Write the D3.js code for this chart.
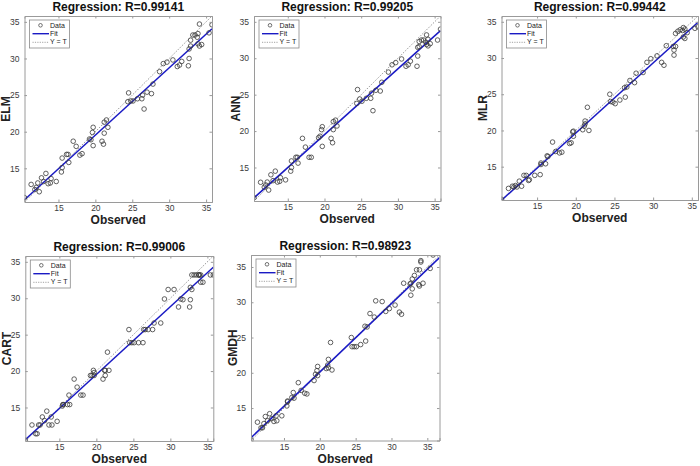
<!DOCTYPE html>
<html><head><meta charset="utf-8">
<script src="https://cdn.jsdelivr.net/npm/d3@7/dist/d3.min.js"></script>
<style>
body{margin:0;background:#fff;}
svg{display:block;font-family:"Liberation Sans",Arial,Helvetica,sans-serif;}
</style>
</head><body>
<svg id="chart" width="700" height="466"></svg>
<script>
// ---------------- data ----------------
const models = ["ELM", "ANN", "MLR", "CART", "GMDH"];
const rValues = ["0.99141", "0.99205", "0.99442", "0.99006", "0.98923"];
const tickValues = [15, 20, 25, 30, 35];
const legendLabels = ["Data", "Fit", "Y = T"];
const xLabel = "Observed";

const observed = [10.4, 11.3, 11.8, 12.0, 12.2, 12.4, 12.7, 13.0, 13.3, 13.6,
  13.9, 14.0, 14.7, 15.4, 15.5, 15.5, 16.1, 16.3, 16.4, 17.0,
  17.4, 17.9, 18.2, 19.2, 19.4, 19.6, 19.7, 19.7, 20.9, 21.1,
  21.2, 21.2, 21.5, 21.7, 24.4, 24.5, 24.8, 25.1, 25.7, 26.3,
  26.4, 26.6, 27.0, 27.6, 27.8, 28.7, 29.2, 29.7, 30.5, 31.1,
  31.4, 31.7, 32.6, 32.7, 32.7, 32.9, 32.9, 33.2, 33.5, 33.8,
  33.9, 33.9, 34.1, 34.1, 34.4, 35.4, 35.8];

const predELM = [11.0, 12.8, 12.1, 12.4, 13.0, 11.8, 13.7, 13.2, 14.3, 12.9,
  13.0, 13.6, 13.2, 14.5, 16.4, 15.1, 16.9, 16.9, 15.8, 18.7,
  18.0, 16.8, 17.0, 19.0, 18.9, 19.9, 20.6, 18.1, 18.7, 18.3,
  19.8, 21.3, 21.6, 20.6, 24.1, 25.3, 24.2, 24.2, 24.5, 24.5,
  25.0, 23.1, 25.4, 25.2, 26.5, 28.2, 29.3, 29.5, 29.8, 28.9,
  29.1, 29.6, 29.0, 30.0, 31.3, 32.5, 31.7, 33.2, 33.2, 32.9,
  33.4, 32.0, 34.7, 31.7, 31.9, 33.5, 34.6];

const predANN = [10.85, 12.97, 12.3, 12.6, 13.0, 11.9, 14.0, 13.2, 14.5, 13.0,
  13.1, 13.6, 13.3, 14.5, 15.9, 15.0, 16.4, 16.4, 15.6, 19.0,
  17.8, 16.4, 16.4, 19.1, 19.3, 20.2, 20.6, 17.9, 19.0, 18.4,
  20.2, 21.3, 21.5, 20.7, 23.8, 25.7, 24.4, 24.1, 24.5, 24.5,
  25.2, 22.8, 25.6, 25.5, 26.7, 28.1, 29.1, 29.4, 29.9, 28.9,
  29.1, 29.6, 28.9, 30.3, 31.5, 32.3, 31.6, 32.5, 32.5, 32.2,
  33.2, 31.9, 32.6, 31.7, 32.0, 32.5, 34.0];

const predMLR = [10.5, 12.0, 12.3, 12.2, 12.4, 12.2, 13.0, 12.3, 13.8, 13.8,
  13.1, 13.2, 13.8, 13.9, 15.3, 15.5, 15.4, 16.5, 16.4, 18.4,
  17.1, 16.9, 17.0, 18.2, 18.3, 19.8, 19.2, 19.9, 20.1, 20.6,
  21.3, 20.9, 23.2, 20.0, 25.0, 24.0, 23.9, 23.7, 24.2, 25.9,
  24.6, 26.0, 26.9, 26.6, 27.9, 28.0, 29.4, 29.9, 30.3, 29.4,
  29.0, 31.7, 31.6, 30.4, 31.1, 31.6, 33.4, 33.7, 33.9, 33.8,
  32.9, 34.2, 32.7, 34.0, 33.5, 34.1, 34.3];

const predCART = [10.5, 12.6, 11.4, 11.4, 12.6, 12.6, 13.7, 13.2, 14.5, 12.6,
  13.7, 12.6, 13.1, 15.2, 15.4, 15.4, 15.4, 16.7, 15.4, 18.9,
  17.8, 16.7, 16.7, 19.4, 19.4, 20.1, 19.8, 19.4, 18.9, 20.1,
  19.4, 20.1, 22.6, 20.1, 25.7, 23.9, 23.9, 23.9, 23.9, 23.9,
  25.7, 25.7, 25.7, 25.7, 26.6, 26.6, 29.9, 31.2, 31.2, 28.8,
  29.9, 29.8, 28.8, 29.8, 31.5, 31.2, 33.2, 33.2, 33.2, 33.2,
  33.2, 33.2, 32.2, 33.2, 32.2, 33.2, 33.2];

const predGMDH = [10.5, 13.0, 12.2, 12.2, 12.8, 13.8, 13.2, 14.2, 13.5, 13.1,
  13.9, 13.2, 13.9, 15.3, 16.0, 15.9, 16.5, 17.2, 16.4, 18.6,
  17.5, 17.1, 17.0, 18.9, 19.8, 20.3, 20.9, 19.6, 20.6, 21.1,
  21.9, 20.7, 24.3, 20.4, 25.0, 23.7, 23.7, 23.7, 24.0, 26.6,
  24.5, 26.5, 28.4, 27.9, 30.2, 30.1, 28.7, 29.1, 29.6, 28.6,
  28.3, 32.7, 32.6, 31.0, 32.7, 31.9, 33.3, 33.8, 34.6, 32.5,
  34.6, 32.3, 35.9, 35.7, 32.7, 34.8, 36.7];

const predictions = [predELM, predANN, predMLR, predCART, predGMDH];

// ---------------- layout (axes boxes) ----------------
const boxes = [
  {l: 24.5, t: 16, r: 212, b: 202},
  {l: 254, t: 16, r: 440.5, b: 201},
  {l: 501.5, t: 16, r: 698, b: 200},
  {l: 25.3, t: 256, r: 213.3, b: 441},
  {l: 251, t: 255, r: 439.5, b: 440.5}
];

const svg = d3.select("#chart");
const axisColor = "#9a9a9a";
const fitColor = "#1a1ac4";

models.forEach((name, i) => {
  const bx = boxes[i];
  const pred = predictions[i];
  const all = observed.concat(pred);
  const dom = d3.extent(all);
  const x = d3.scaleLinear().domain(dom).range([bx.l, bx.r]);
  const y = d3.scaleLinear().domain(dom).range([bx.b, bx.t]);

  // least-squares fit of pred on observed
  const mx = d3.mean(observed), my = d3.mean(pred);
  let sxy = 0, sxx = 0;
  observed.forEach((o, k) => { sxy += (o - mx) * (pred[k] - my); sxx += (o - mx) * (o - mx); });
  const slope = sxy / sxx, icpt = my - slope * mx;

  const g = svg.append("g");
  const clipId = "clip" + i;
  g.append("clipPath").attr("id", clipId).append("rect")
    .attr("x", bx.l).attr("y", bx.t).attr("width", bx.r - bx.l).attr("height", bx.b - bx.t);

  g.append("rect").attr("x", bx.l).attr("y", bx.t)
    .attr("width", bx.r - bx.l).attr("height", bx.b - bx.t)
    .attr("fill", "#fff");

  const plot = g.append("g").attr("clip-path", `url(#${clipId})`);
  // Y = T
  plot.append("line")
    .attr("x1", x(dom[0])).attr("y1", y(dom[0]))
    .attr("x2", x(dom[1])).attr("y2", y(dom[1]))
    .attr("stroke", "#8c8c8c").attr("stroke-width", 0.9)
    .attr("stroke-dasharray", "1.5,1.5");
  // Fit
  plot.append("line")
    .attr("x1", x(dom[0])).attr("y1", y(slope * dom[0] + icpt))
    .attr("x2", x(dom[1])).attr("y2", y(slope * dom[1] + icpt))
    .attr("stroke", fitColor).attr("stroke-width", 1.5);
  // Data
  plot.selectAll("circle.pt").data(observed.map((o, k) => [o, pred[k]]))
    .enter().append("circle").attr("class", "pt")
    .attr("cx", d => x(d[0])).attr("cy", d => y(d[1])).attr("r", 2.3)
    .attr("fill", "none").attr("stroke", "#3a3a3a").attr("stroke-width", 0.8);

  // axes
  const tickLen = -2.5;
  const axB = d3.axisBottom(x).tickValues(tickValues).tickSize(tickLen).tickPadding(3).tickFormat(d3.format("d"));
  const axT = d3.axisTop(x).tickValues(tickValues).tickSize(tickLen).tickFormat("");
  const axL = d3.axisLeft(y).tickValues(tickValues).tickSize(tickLen).tickPadding(5).tickFormat(d3.format("d"));
  const axR = d3.axisRight(y).tickValues(tickValues).tickSize(tickLen).tickFormat("");
  const style = sel => {
    sel.select(".domain").attr("stroke", axisColor).attr("stroke-width", 1);
    sel.selectAll(".tick line").attr("stroke", axisColor);
    sel.selectAll(".tick text").attr("fill", "#3c3c3c").attr("font-size", "8.5px")
      .attr("font-family", "Liberation Sans, Arial, sans-serif");
  };
  g.append("g").attr("transform", `translate(0,${bx.b})`).call(axB).call(style);
  g.append("g").attr("transform", `translate(0,${bx.t})`).call(axT).call(style);
  g.append("g").attr("transform", `translate(${bx.l},0)`).call(axL).call(style);
  g.append("g").attr("transform", `translate(${bx.r},0)`).call(axR).call(style);

  const cx = (bx.l + bx.r) / 2, cy = (bx.t + bx.b) / 2;
  // title
  g.append("text").attr("x", cx).attr("y", bx.t - 5.5)
    .attr("text-anchor", "middle").attr("font-size", "12px").attr("font-weight", "bold")
    .attr("fill", "#111").text(`Regression: R=${rValues[i]}`);
  // x label
  g.append("text").attr("x", cx).attr("y", bx.b + 22)
    .attr("text-anchor", "middle").attr("font-size", "12px").attr("font-weight", "bold")
    .attr("fill", "#222").text(xLabel);
  // y label
  g.append("text").attr("transform", `translate(${bx.l - 14.5},${cy}) rotate(-90)`)
    .attr("text-anchor", "middle").attr("font-size", "12px").attr("font-weight", "bold")
    .attr("fill", "#222").text(name);

  // legend
  const lx = bx.l + 5, ly = bx.t + 4;
  const lg = g.append("g");
  lg.append("rect").attr("x", lx).attr("y", ly).attr("width", 40).attr("height", 28)
    .attr("fill", "#fff").attr("stroke", "#8a8a8a").attr("stroke-width", 0.8);
  lg.append("circle").attr("cx", lx + 11).attr("cy", ly + 5.3).attr("r", 1.8)
    .attr("fill", "none").attr("stroke", "#3a3a3a").attr("stroke-width", 0.7);
  lg.append("line").attr("x1", lx + 3).attr("x2", lx + 19.5)
    .attr("y1", ly + 13.7).attr("y2", ly + 13.7)
    .attr("stroke", fitColor).attr("stroke-width", 1.4);
  lg.append("line").attr("x1", lx + 3).attr("x2", lx + 19.5)
    .attr("y1", ly + 22.3).attr("y2", ly + 22.3)
    .attr("stroke", "#8c8c8c").attr("stroke-width", 0.8).attr("stroke-dasharray", "1.2,1.2");
  legendLabels.forEach((t, k) => {
    lg.append("text").attr("x", lx + 20.5).attr("y", ly + 7.6 + k * 8.4)
      .attr("font-size", "7px").attr("fill", "#222").text(t);
  });
});
</script>
</body></html>
